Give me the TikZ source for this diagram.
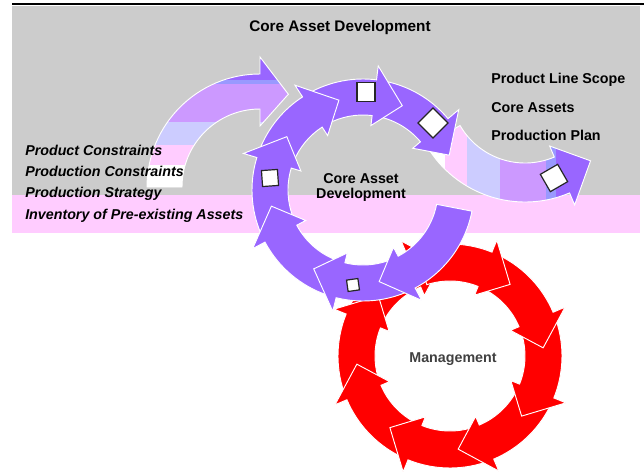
\documentclass[tikz,border=0pt]{standalone}
\usepackage{fontspec}
\setmainfont{Liberation Sans}
\definecolor{pur}{HTML}{9966FF}
\definecolor{pb}{HTML}{9999FF}
\definecolor{lil}{HTML}{CC99FF}
\definecolor{lav}{HTML}{CCCCFF}
\definecolor{pnk}{HTML}{FFCCFF}
\definecolor{gry}{HTML}{CCCCCC}
\definecolor{rd}{HTML}{FF0000}
% #1 style, #2 cx, #3 cy, #4 r-in, #5 r-out, #6 tail angle, #7 head back angle, #8 head length, #9 head overhang
\newcommand\ringseg[9]{%
  \pgfmathsetmacro\segtail{#6}%
  \pgfmathsetmacro\segback{#7}%
  \pgfmathsetmacro\segtip{#7+#8}%
  \pgfmathsetmacro\segmid{(#4+#5)/2}%
  \pgfmathsetmacro\segout{#5+#9}%
  \pgfmathsetmacro\segin{#4-0.72*#9}%
  \filldraw[#1,shift={(#2,#3)}] (\segtail:#5)
    arc[start angle=\segtail,end angle=\segback,radius=#5]
    -- (\segback:\segout) -- (\segtip:\segmid) -- (\segback:\segin)
    -- (\segback:#4)
    arc[start angle=\segback,end angle=\segtail,radius=#4] -- cycle;}
\begin{document}
\begin{tikzpicture}[x=0.75pt,y=-0.75pt,
  seg/.style={line width=0.7pt,draw=white,line join=miter},
  purseg/.style={seg,fill=pur},
  redseg/.style={seg,fill=rd},
  sqbox/.style={draw=black!85,fill=white,line width=0.9pt,inner sep=0pt,shape=rectangle},
  lbl/.style={font=\fontsize{10.7}{12}\selectfont\bfseries,inner sep=0pt},
  ilbl/.style={font=\fontsize{10.7}{12}\selectfont\bfseries\itshape,inner sep=0pt}]
\useasboundingbox (0,0) rectangle (644,475);
\fill[white] (0,0) rectangle (644,475);
% background bands
\fill[gry] (12,6) rectangle (640,195);
\fill[pnk] (12,195) rectangle (640,233);
\draw[black,line width=1.1pt] (12,4) -- (644,4);
% incoming arc (left)
\begin{scope}
\clip[shift={(260,187)}] (180:113) arc[start angle=180,end angle=270,radius=113]
  -- (270:130) -- (287:97) -- (270:61) -- (270:78)
  arc[start angle=270,end angle=180,radius=78] -- cycle;
\fill[pur] (100,40) rectangle (320,80);
\fill[pb] (100,80) rectangle (320,84);
\fill[lil] (100,84) rectangle (320,122);
\fill[lav] (100,122) rectangle (320,145);
\fill[pnk] (100,145) rectangle (320,165);
\fill[white] (100,165) rectangle (320,200);
\end{scope}
\draw[seg,shift={(260,187)}] (180:113) arc[start angle=180,end angle=270,radius=113]
  -- (270:130) -- (287:97) -- (270:61) -- (270:78)
  arc[start angle=270,end angle=180,radius=78] -- cycle;
% outgoing S arc (right)
\begin{scope}
\clip[shift={(525,88)}] (150:114) arc[start angle=150,end angle=67,radius=114]
  -- (67:127) -- (48:98) -- (67:63) -- (67:75)
  arc[start angle=67,end angle=150,radius=75] -- cycle;
\fill[white] (400,50) rectangle (445,260);
\fill[pnk] (445,50) rectangle (467,260);
\fill[lav] (467,50) rectangle (500,260);
\fill[lil] (500,50) rectangle (546,260);
\fill[pb] (546,50) rectangle (556,260);
\fill[pur] (556,50) rectangle (620,260);
\end{scope}
\draw[seg,shift={(525,88)}] (150:114) arc[start angle=150,end angle=67,radius=114]
  -- (67:127) -- (48:98) -- (67:63) -- (67:75)
  arc[start angle=67,end angle=150,radius=75] -- cycle;
% Management ring (red), drawn counter-clockwise so each head lies on the next tail
\foreach \b in {247,202,157,112,67,22,-23,-68}{
  \ringseg{redseg}{450}{356}{75}{112}{\b-40}{\b}{18}{13}
}
% Core asset development ring (purple)
\foreach \t/\b in {282/320,242/277,202/237,157/197,109/152,67/104,11/62}{
  \ringseg{purseg}{363}{190}{75}{111}{\t}{\b}{18}{14}
}
% squares
\node[sqbox,minimum width=13.5pt,minimum height=14.5pt] (sqtop) at (366,92) {};
\node[sqbox,minimum size=16pt,rotate=45] (sqright) at (433,123) {};
\node[sqbox,minimum size=12pt,rotate=4] (sqleft) at (270,178) {};
\node[sqbox,minimum size=8.6pt,rotate=8] (sqbottom) at (353,285) {};
\node[sqbox,minimum size=15pt,rotate=30] (sqout) at (554,178) {};
% texts
\node[font=\fontsize{11.5}{13}\selectfont\bfseries,inner sep=0pt,anchor=base] (title) at (340,31) {Core Asset Development};
\node[ilbl,anchor=base west] (pc) at (25,155) {Product Constraints};
\node[ilbl,anchor=base west] (prc) at (25,176) {Production Constraints};
\node[ilbl,anchor=base west] (ps) at (25,197) {Production Strategy};
\node[ilbl,anchor=base west] (inv) at (25,219) {Inventory of Pre-existing Assets};
\node[lbl,anchor=base west] (pls) at (491,83) {Product Line Scope};
\node[lbl,anchor=base west] (ca) at (491,112) {Core Assets};
\node[lbl,anchor=base west] (pp) at (491,140) {Production Plan};
\node[lbl,anchor=base] (cad1) at (361,183) {Core Asset};
\node[lbl,anchor=base] (cad2) at (361,198) {Development};
\node[lbl,anchor=base,text=black!75] (mgmt) at (453,362) {Management};
\end{tikzpicture}
\end{document}
